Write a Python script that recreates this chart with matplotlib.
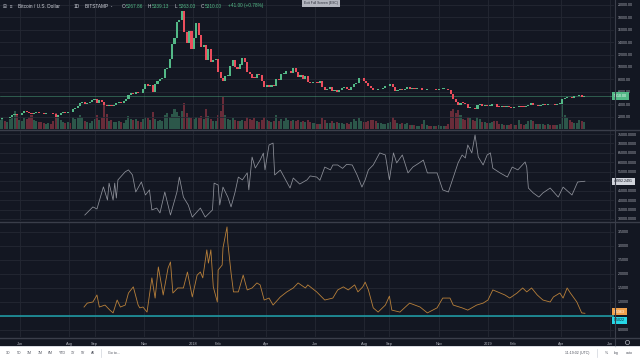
import numpy as np
import matplotlib
matplotlib.use('Agg')
import matplotlib.pyplot as plt
from matplotlib.lines import Line2D
from matplotlib.patches import Rectangle

plt.rcParams['font.family'] = ['Liberation Sans', 'DejaVu Sans']

# ---- price pane: 3-day candles, first close on 2017-05-07 ----
first_day = '2017-05-07'
first_open = 1550
closes = [1580, 1760, 1720, 1730, 1970, 2180, 2480, 2200, 2300,
          2520, 2870, 2800, 2650, 2440, 2550, 2690, 2560, 2540, 2480,
          2560, 2600, 2500, 2390, 1930, 2280, 2650, 2740, 2650, 2740,
          2700, 3230, 3420, 3650, 4170, 4280, 4090, 4150, 4350, 4600,
          4890, 4230, 4630, 4330, 3880, 3700, 3900, 3630, 3930, 4200,
          4400, 4220, 4440, 4760, 5430, 5750, 5700, 6010, 5750, 5730, 6450,
          7210, 6990, 7140, 5950, 7300, 7700, 8080, 8230, 9720, 9880,
          11280, 13750, 14700, 17280, 17600, 18960, 15560, 13900, 15800, 12950,
          14750, 17170, 15170, 13300, 13600, 11200, 12900, 10800, 11100, 11270,
          9170, 8200, 7700, 8550, 8560, 10200, 11150, 10000, 9600, 10400,
          11500, 10750, 9230, 8850, 8290, 8240, 8900, 8630, 7800, 6850,
          7060, 6800, 7020, 6950, 8000, 7900, 8860, 8930, 9300, 9420,
          9080, 9820, 9190, 8450, 8690, 8060, 8530, 7500, 7360, 7500,
          7540, 7490, 7690, 6770, 6310, 6530, 6740, 6050, 6250, 5900,
          6350, 6600, 6750, 6400, 6240, 6730, 7320, 7400, 8170, 8230, 7730,
          7420, 6950, 6540, 6280, 6270, 6400, 6480, 6690, 6900, 6990,
          7300, 6700, 6200, 6270, 6480, 6260, 6500, 6700, 6460, 6620,
          6530, 6590, 6640, 6250, 6320, 6480, 6430, 6410, 6430, 6270,
          6370, 6480, 6530, 6410, 6280, 5590, 4800, 4340, 3920, 4250,
          4220, 3960, 3400, 3450, 3320, 3230, 3800, 4000, 3740, 3900, 3700,
          3780, 4040, 4020, 3620, 3580, 3630, 3540, 3580, 3540, 3450,
          3500, 3470, 3690, 3610, 3600, 3680, 3930, 4130, 3820,
          3830, 3720, 3880, 3920, 3880, 4020, 4000, 3990, 3920, 4030, 4100,
          4900, 5050, 5170, 5080, 5030, 5260, 5290, 5430, 5200, 5310]
volumes = [9, 12, 8, 7, 10, 13, 18, 14, 9,
           8, 11, 10, 12, 14, 9, 8, 7, 7, 6,
           5, 6, 5, 8, 16, 13, 9, 7, 6, 7,
           6, 12, 10, 11, 14, 12, 8, 7, 6, 8,
           10, 14, 9, 11, 26, 15, 8, 9, 7, 7,
           8, 7, 6, 9, 13, 10, 9, 10, 8, 7, 10,
           12, 11, 9, 17, 10, 8, 9, 8, 14, 16,
           12, 15, 20, 17, 13, 18, 26, 16, 12, 11,
           10, 12, 11, 13, 10, 20, 13, 10, 8, 8,
           14, 18, 32, 14, 10, 9, 11, 9, 8, 8,
           9, 8, 12, 10, 9, 11, 8, 7, 9, 12,
           9, 8, 7, 8, 14, 8, 10, 8, 11, 9,
           8, 9, 8, 9, 7, 8, 7, 9, 7, 6,
           6, 5, 5, 11, 9, 6, 6, 8, 6, 7,
           6, 6, 5, 6, 5, 7, 10, 8, 11, 8, 7,
           7, 8, 9, 9, 8, 6, 6, 5, 5, 6,
           7, 12, 9, 6, 5, 6, 5, 6, 4, 4,
           4, 3, 3, 5, 9, 4, 3, 3, 3, 3,
           4, 3, 3, 3, 5, 18, 20, 16, 19, 14,
           10, 9, 12, 11, 9, 8, 12, 10, 7, 7, 6,
           6, 7, 8, 8, 5, 5, 4, 4, 4, 5,
           4, 4, 9, 5, 4, 5, 8, 9, 8,
           5, 5, 5, 5, 4, 5, 4, 4, 4, 4, 5,
           25, 14, 11, 9, 7, 6, 6, 9, 8, 7]
last_price = 5310.00

# ---- indicator panes: x = days after 2018-01-01 ----
mid_days = [-134, -124, -119, -111, -106, -104, -99, -97, -95, -93,
            -84, -80, -75, -71, -64, -59, -54, -51, -45, -41,
            -35, -28, -20, -17, -12, -6, -1, 9, 15, 24,
            26, 31, 33, 37, 43, 47, 52, 56, 61, 67,
            69, 73, 77, 83, 87, 89, 94, 99, 101, 108,
            120, 124, 132, 141, 145, 153, 157, 163, 170, 173, 179, 185, 190, 197, 203,
            209, 213, 217, 223, 231, 238, 243, 248, 252, 259,
            266, 272, 280, 285, 290, 302, 309, 316, 321, 328,
            333, 337, 340, 345, 349, 353, 359, 364, 368, 371,
            380, 389, 395, 402, 411, 413, 415, 421, 428, 433,
            442, 452, 458, 469, 476, 485]
mid_vals = [32100, 36400, 35300, 47000, 40000, 49000, 40000, 49000, 41100, 50700,
            55000, 56000, 53300, 44300, 49600, 42700, 45400, 34800, 35800, 33200,
            44300, 32100, 44300, 52200, 41600, 37400, 31000, 35800, 31000, 34800,
            49000, 48000, 37400, 46900, 41600, 36400, 44300, 52200, 50700, 54400,
            45400, 62800, 57000, 61200, 64900, 56000, 69200, 70200, 53300, 55900,
            46400, 51700, 48500, 50700, 52800, 52200, 50500, 57500, 56000, 58600, 58600, 56800, 58900, 58600, 53300,
            46900, 50700, 56000, 58600, 65000, 63900, 50700, 65000, 59700, 63900,
            54400, 57500, 59700, 61200, 54400, 54400, 45400, 44300, 50700, 59700,
            63900, 62300, 69200, 65000, 74500, 62800, 58600, 63900, 65000, 56900,
            54400, 52200, 57500, 56000, 60200, 57500, 46400, 43800, 41600, 43800,
            46400, 41600, 46900, 42700, 49600, 49992.2491]

low_days = [-135, -131, -124, -119, -116, -109, -103, -99, -94, -90,
            -84, -80, -74, -68, -66, -62, -57, -51, -47, -43,
            -37, -31, -28, -25, -19, -12, -7, -1, 5, 9,
            12, 17, 19, 22, 25, 30, 31, 36, 37, 42,
            43, 47, 50, 56, 62, 67, 73, 79, 83, 88,
            94, 99, 108, 116, 124, 130, 139, 142, 153, 163,
            173, 179, 186, 192, 200, 204, 210, 213, 217, 223,
            229, 238, 243, 246, 256, 268, 281, 290, 302, 309,
            318, 322, 333, 340, 351, 359, 365, 371, 377, 386,
            392, 401, 408, 413, 419, 426, 433, 442, 446, 454,
            458, 463, 467, 475, 481, 485]
low_vals = [0.82, 0.96, 1.0, 1.25, 0.82, 0.89, 0.71, 0.61, 1.07, 0.82,
            0.89, 1.32, 1.54, 0.89, 0.79, 0.82, 0.64, 1.86, 1.14, 2.25,
            1.25, 2.21, 2.43, 1.32, 1.5, 1.5, 2.07, 1.18, 1.96, 2.07,
            1.86, 2.86, 2.39, 2.86, 1.54, 1.0, 2.14, 2.32, 2.93, 3.68,
            3.11, 2.04, 1.36, 1.36, 1.96, 1.43, 1.5, 1.68, 1.61, 1.07,
            1.14, 0.89, 1.18, 1.36, 1.5, 1.68, 1.5, 1.61, 1.36, 1.07,
            1.14, 1.43, 1.54, 1.43, 1.61, 1.36, 1.54, 1.71, 1.43, 0.79,
            0.64, 0.89, 1.21, 0.71, 0.64, 0.96, 0.82, 0.61, 0.79, 1.14,
            1.14, 0.89, 0.79, 0.71, 0.89, 0.96, 1.07, 1.43, 1.36, 1.25,
            1.14, 1.32, 1.5, 1.36, 1.5, 1.25, 1.07, 1.0, 1.18, 1.32,
            1.14, 1.5, 1.32, 1.0, 0.61, 0.5963]
cyan_level = 0.5022

time_ticks = ['2017-06-01', '2017-08-01', '2017-09-01', '2017-11-01', '2018-01-01',
              '2018-02-01', '2018-04-01', '2018-06-01', '2018-08-01', '2018-09-01',
              '2018-11-01', '2019-01-01', '2019-02-01', '2019-04-01', '2019-06-01']
time_labels = ['Jun', 'Aug', 'Sep', 'Nov', '2018', 'Feb', 'Apr', 'Jun', 'Aug', 'Sep',
               'Nov', '2019', 'Feb', 'Apr', 'Jun']

price_ticks = [2000, 4000, 6000, 8000, 10000, 12000, 14000, 16000, 18000, 20000]
mid_ticks = [30000, 35000, 40000, 45000, 50000, 55000, 60000, 65000, 70000, 75000]
low_ticks = [0.0, 0.5, 1.0, 1.5, 2.0, 2.5, 3.0, 3.5]
# labels that sit under the last-value badges
hidden = {50000, 0.5}

# ---- colours ----
BG = '#131722'
GRID = '#242833'
SEP = '#3a3e4a'
TXT = '#b2b5be'
UP = '#53b987'
DOWN = '#eb4d5c'

base = np.datetime64('2018-01-01')
day0 = (np.datetime64(first_day) - base).astype(int)
cd = day0 + 3 * np.arange(len(closes))
closes = np.array(closes, dtype=float)
opens = np.concatenate([[first_open], closes[:-1]])
up = closes >= opens
ccol = np.where(up, UP, DOWN)
xt = [(np.datetime64(t) - base).astype(int) for t in time_ticks]

W, H = 640, 360
def rect(x0, y0, x1, y1):
    return [x0 / W, 1 - y1 / H, (x1 - x0) / W, (y1 - y0) / H]

fig = plt.figure(figsize=(6.4, 3.6), dpi=100, facecolor=BG)
XL = (-239, 521)

def style(ax, ticks, fmt, ylim):
    ax.set_facecolor(BG)
    ax.set_xlim(*XL)
    ax.set_ylim(*ylim)
    ax.set_xticks(xt)
    ax.set_yticks(ticks)
    ax.set_yticklabels(['' if t in hidden else fmt % t for t in ticks])
    ax.yaxis.tick_right()
    ax.tick_params(axis='y', length=0, pad=3, labelsize=2.6, labelcolor=TXT)
    ax.tick_params(axis='x', length=0, labelbottom=False)
    ax.grid(True, color=GRID, lw=0.6)
    ax.set_axisbelow(True)
    for s in ax.spines.values():
        s.set_visible(False)

# volume behind the candles
axv = fig.add_axes(rect(0, 0, 614, 129))
axv.set_facecolor(BG)
axv.set_xlim(*XL)
axv.set_ylim(0, 130)
axv.bar(cd, volumes, width=2.5, color=ccol, alpha=0.4, linewidth=0)
axv.axis('off')

ax1 = fig.add_axes(rect(0, 0, 614, 129))
style(ax1, price_ticks, '%.2f', (0, 20800))
ax1.patch.set_visible(False)
body = np.maximum(np.abs(closes - opens), 90)
ax1.bar(cd, body, bottom=np.minimum(opens, closes), width=2.6, color=ccol, linewidth=0, zorder=3)
ax1.axhline(last_price, color=UP, lw=0.5, alpha=0.6, zorder=2)
ax1.text(1.0, last_price, '%.2f' % last_price, transform=ax1.get_yaxis_transform(),
         fontsize=2.6, color='white', va='center', ha='left', clip_on=False, zorder=5,
         bbox=dict(boxstyle='square,pad=0.45', fc=UP, ec='none'))

ax2 = fig.add_axes(rect(0, 131, 614, 221))
style(ax2, mid_ticks, '%.4f', (28940, 76590))
ax2.plot(mid_days, mid_vals, color='#8f929b', lw=0.55)
ax2.text(1.0, mid_vals[-1], '%.4f' % mid_vals[-1], transform=ax2.get_yaxis_transform(),
         fontsize=2.6, color='#131722', va='center', ha='left', clip_on=False, zorder=5,
         bbox=dict(boxstyle='square,pad=0.45', fc='#d1d4dc', ec='none'))

ax3 = fig.add_axes(rect(0, 223, 614, 337))
style(ax3, low_ticks, '%.4f', (-0.25, 3.82))
ax3.axhline(cyan_level, color='#1fa3ad', lw=1.1, zorder=2)
ax3.plot(low_days, low_vals, color='#b8803a', lw=0.6, zorder=3)
ax3.text(1.0, low_vals[-1] + 0.06, '%.4f' % low_vals[-1], transform=ax3.get_yaxis_transform(),
         fontsize=2.6, color='white', va='center', ha='left', clip_on=False, zorder=5,
         bbox=dict(boxstyle='square,pad=0.45', fc='#f0a04b', ec='none'))
ax3.text(1.0, cyan_level - 0.16, '%.4f' % cyan_level, transform=ax3.get_yaxis_transform(),
         fontsize=2.6, color='#131722', va='center', ha='left', clip_on=False, zorder=5,
         bbox=dict(boxstyle='square,pad=0.45', fc='#26d7e6', ec='none'))
ax3.tick_params(axis='x', labelbottom=True, labelsize=2.8, labelcolor=TXT, pad=3.5)
ax3.set_xticklabels(time_labels)

# pane separators and price-scale border
for y in (130, 222, 337.5):
    fig.add_artist(Line2D([0, 1], [1 - y / H] * 2, transform=fig.transFigure, color=SEP, lw=1.0))
fig.add_artist(Line2D([614.5 / W] * 2, [14 / H, 1], transform=fig.transFigure, color=SEP, lw=0.8))

# header
hy = 1 - 6 / H
fig.text(3 / W, hy, '⊞  ≡', fontsize=3.4, color=TXT, va='center')
fig.text(18 / W, hy, 'Bitcoin / U.S. Dollar', fontsize=3.4, color='#d1d4dc', va='center')
fig.text(74 / W, hy, '1D', fontsize=3.4, color='#d1d4dc', va='center')
fig.text(85 / W, hy, 'BITSTAMP  -', fontsize=3.4, color='#d1d4dc', va='center')
for x, lab, val in [(122, 'O', '5267.86'), (148, 'H', '5339.13'), (175, 'L', '5263.03'), (201, 'C', '5310.00')]:
    fig.text(x / W, hy, lab, fontsize=3.4, color='#d1d4dc', va='center')
    fig.text((x + 3.5) / W, hy, val, fontsize=3.4, color=UP, va='center')
fig.text(228 / W, hy, '+41.00 (+0.78%)', fontsize=3.4, color=UP, va='center')
fig.text(321 / W, 1 - 3 / H, 'Exit Full Screen (ESC)', fontsize=2.4, color='#2a2e39',
         ha='center', va='center',
         bbox=dict(boxstyle='square,pad=0.5', fc='#b2b5be', ec='none'))

# bottom toolbar
fig.add_artist(Rectangle((0, 0), 1, 14 / H, transform=fig.transFigure, fc='white', ec='none'))
fig.add_artist(Line2D([0, 1], [14 / H] * 2, transform=fig.transFigure, color='#d1d4dc', lw=0.6))
ty = 7 / H
for x, s in [(6, '1D'), (17, '5D'), (27, '1M'), (38, '3M'), (48, '6M'), (59, 'YTD'),
             (71, '1Y'), (81, '5Y'), (91, 'All'), (108, 'Go to...')]:
    fig.text(x / W, ty, s, fontsize=2.6, color='#50535e', va='center')
fig.add_artist(Line2D([101 / W] * 2, [3 / H, 11 / H], transform=fig.transFigure, color='#d1d4dc', lw=0.5))
fig.add_artist(Line2D([597 / W] * 2, [3 / H, 11 / H], transform=fig.transFigure, color='#d1d4dc', lw=0.5))
fig.text(565 / W, ty, '11:19:02 (UTC)', fontsize=2.6, color='#50535e', va='center')
fig.text(605 / W, ty, '%', fontsize=2.6, color='#50535e', va='center')
fig.text(614 / W, ty, 'log', fontsize=2.6, color='#50535e', va='center')
fig.text(626 / W, ty, 'auto', fontsize=2.6, color='#50535e', va='center')
fig.add_artist(Line2D([627 / W], [1 - 342 / H], transform=fig.transFigure, marker='o',
                      ms=3, mfc='none', mec=TXT, mew=0.5))

fig.savefig('out.png', dpi=100, facecolor=BG)
